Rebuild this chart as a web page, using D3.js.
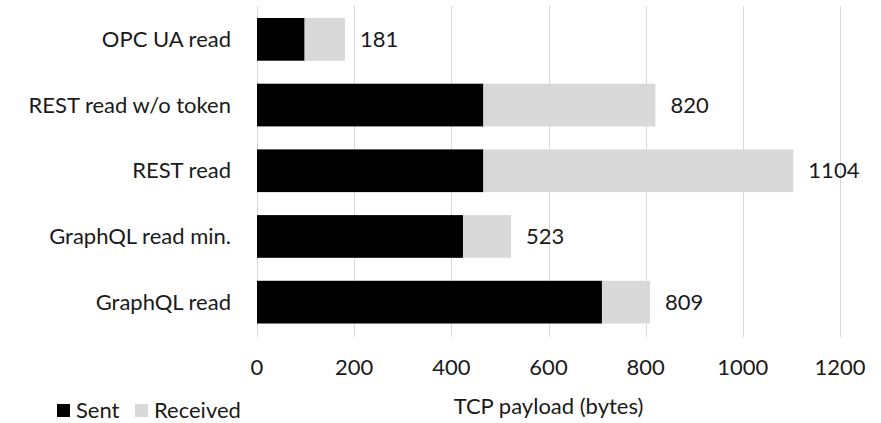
<!DOCTYPE html>
<html lang="en">
<head>
    <meta charset="UTF-8">
    <title>TCP payload</title>
    <script src="https://d3js.org/d3.v7.min.js"></script>
    <style>
        body { margin: 0; background: #fff; font-family: Lato, "Open Sans", sans-serif; }
        svg text { fill: #1a1a1a; }
    </style>
</head>
<body>
<div id="chart"></div>

<script>
    // data
    const categories = ["OPC UA read", "REST read w/o token", "REST read", "GraphQL read min.", "GraphQL read"];
    const sent = [98, 466, 466, 424, 710];
    const received = [83, 354, 638, 99, 99];
    const totals = [181, 820, 1104, 523, 809];
    const xTicks = [0, 200, 400, 600, 800, 1000, 1200];
    const seriesNames = ["Sent", "Received"];
    const seriesColors = ["#000000", "#d9d9d9"];

    const width = 881;
    const height = 423;
    const fontSize = 22;

    const svg = d3.select("#chart").append("svg")
        .attr("width", width)
        .attr("height", height);

    const x = d3.scaleLinear()
        .domain([0, 1200])
        .range([257, 840]);

    const y = d3.scaleBand()
        .domain(categories)
        .range([6.5, 335])
        .paddingInner(0.35)
        .paddingOuter(0.175);

    // gridlines
    svg.append("g")
        .selectAll("line")
        .data(xTicks)
        .join("line")
        .attr("x1", d => Math.round(x(d)) + 0.5)
        .attr("x2", d => Math.round(x(d)) + 0.5)
        .attr("y1", 6)
        .attr("y2", 337)
        .attr("stroke", "#d9d9d9")
        .attr("stroke-width", 1);

    // stacked bars
    const rows = categories.map((c, i) => ({cat: c, sent: sent[i], received: received[i], total: totals[i]}));
    const stack = d3.stack().keys(["sent", "received"])(rows);

    svg.append("g")
        .selectAll("g")
        .data(stack)
        .join("g")
        .attr("fill", (d, i) => seriesColors[i])
        .selectAll("rect")
        .data(d => d)
        .join("rect")
        .attr("x", d => x(d[0]))
        .attr("y", d => y(d.data.cat))
        .attr("width", d => x(d[1]) - x(d[0]))
        .attr("height", y.bandwidth());

    // value labels
    svg.append("g")
        .selectAll("text")
        .data(rows)
        .join("text")
        .attr("x", d => x(d.total) + 15)
        .attr("y", d => y(d.cat) + y.bandwidth() / 2)
        .attr("dy", "0.35em")
        .style("font-size", fontSize + "px")
        .text(d => d.total);

    // category labels
    svg.append("g")
        .selectAll("text")
        .data(categories)
        .join("text")
        .attr("x", 231)
        .attr("y", d => y(d) + y.bandwidth() / 2)
        .attr("dy", "0.35em")
        .attr("text-anchor", "end")
        .style("font-size", fontSize + "px")
        .text(d => d);

    // x tick labels
    svg.append("g")
        .selectAll("text")
        .data(xTicks)
        .join("text")
        .attr("x", d => x(d))
        .attr("y", 367)
        .attr("dy", "0.35em")
        .attr("text-anchor", "middle")
        .style("font-size", fontSize + "px")
        .text(d => d);

    // axis title
    svg.append("text")
        .attr("x", (x.range()[0] + x.range()[1]) / 2)
        .attr("y", 406)
        .attr("dy", "0.35em")
        .attr("text-anchor", "middle")
        .style("font-size", fontSize + "px")
        .text("TCP payload (bytes)");

    // legend
    const legendX = [57, 135];
    const legend = svg.append("g");
    seriesNames.forEach((name, i) => {
        legend.append("rect")
            .attr("x", legendX[i])
            .attr("y", 404)
            .attr("width", 13)
            .attr("height", 13)
            .attr("fill", seriesColors[i]);
        legend.append("text")
            .attr("x", legendX[i] + 19)
            .attr("y", 410)
            .attr("dy", "0.35em")
            .style("font-size", fontSize + "px")
            .text(name);
    });
</script>
</body>
</html>
